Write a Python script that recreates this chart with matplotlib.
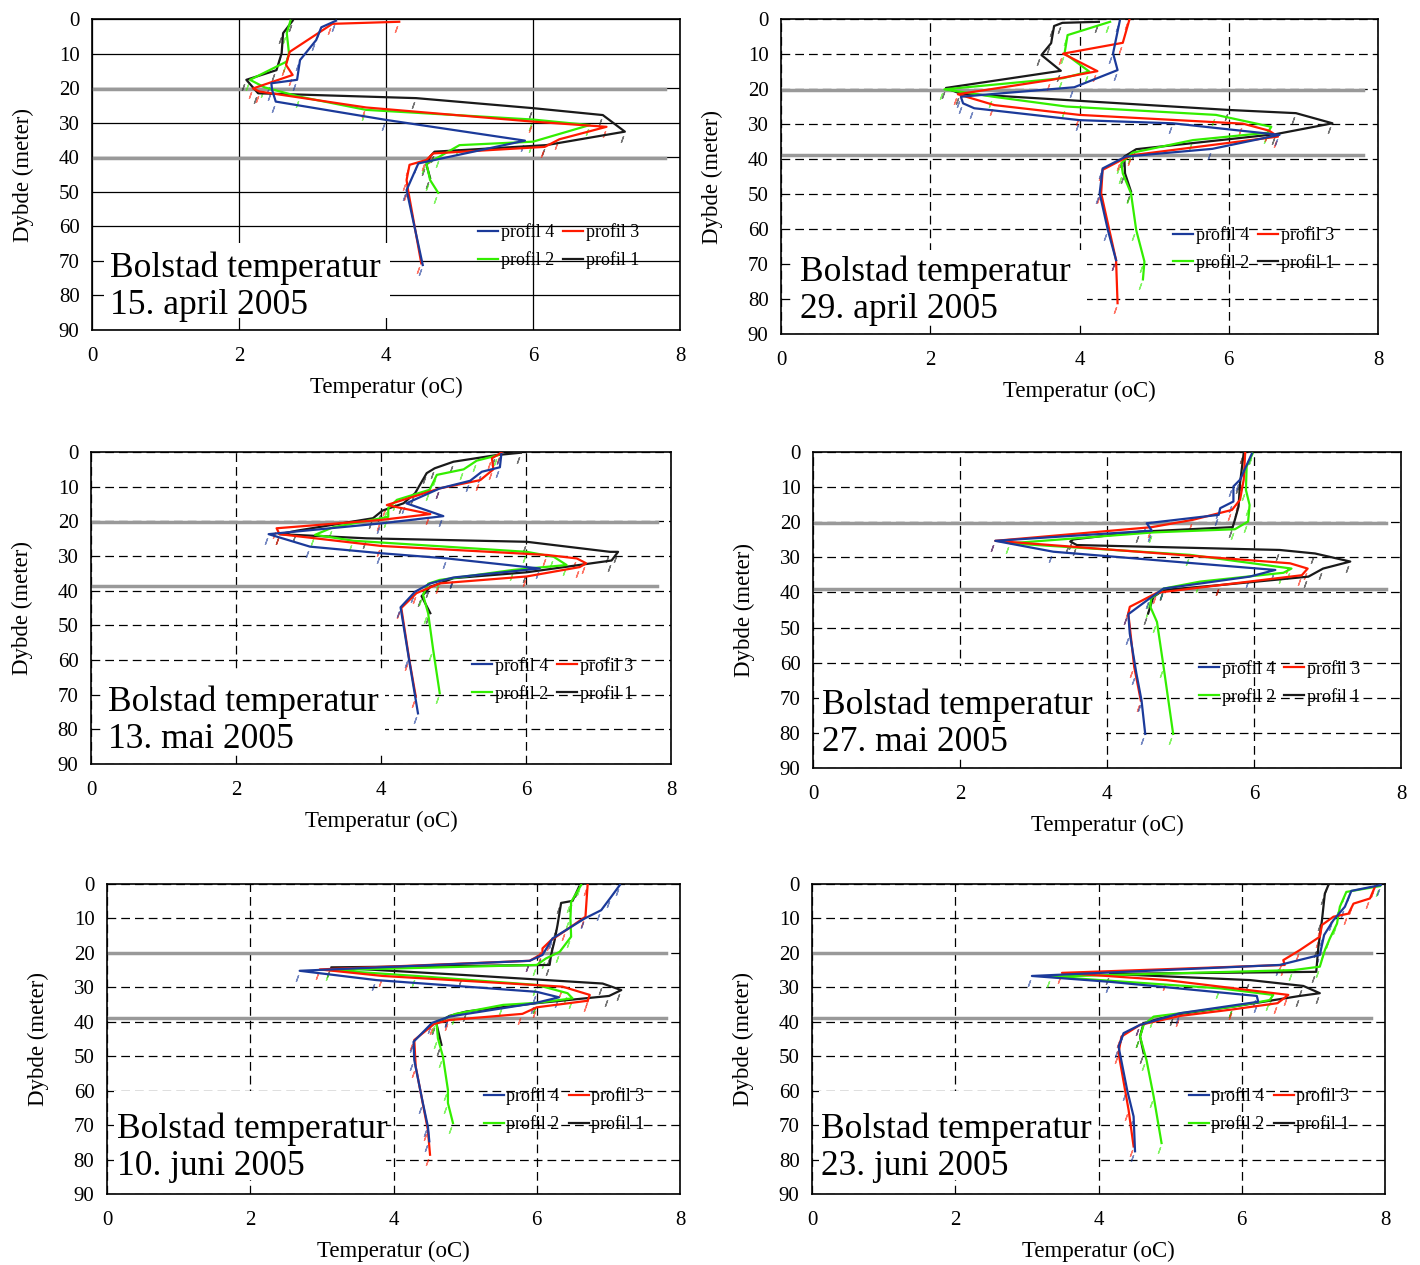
import matplotlib
matplotlib.use("Agg")
import matplotlib.pyplot as plt
from matplotlib.patches import Rectangle
from matplotlib.transforms import offset_copy

plt.rcParams['font.family'] = ['Liberation Serif', 'DejaVu Serif']

# ---- data: temperature (oC) and depth (m) per profile and date ----
# 15. april 2005
apr15_p4_t = [3.32, 3.12, 3.05, 2.83, 2.79, 2.44, 2.45, 2.50, 4.0, 5.89, 4.44, 4.28, 4.50]
apr15_p4_d = [0.5, 2.4, 6.1, 11.9, 17.6, 18.6, 20.5, 23.9, 29.2, 35.2, 41.8, 49.5, 71.2]
apr15_p3_t = [4.18, 3.27, 2.69, 2.64, 2.73, 2.19, 2.28, 3.73, 6.0, 7.0, 6.36, 6.16, 4.64, 4.55, 4.32, 4.28, 4.30, 4.48]
apr15_p3_d = [0.8, 1.4, 9.5, 13.3, 16.2, 20.1, 21.0, 25.6, 29.7, 31.2, 34.8, 37.0, 38.9, 40.8, 42.2, 46.6, 49.5, 70.7]
apr15_p2_t = [2.70, 2.65, 2.68, 2.65, 2.15, 2.35, 2.83, 3.73, 6.0, 6.77, 6.0, 5.0, 4.73, 4.55, 4.60, 4.71]
apr15_p2_d = [0.5, 4.1, 9.9, 12.3, 17.6, 19.8, 22.5, 26.3, 29.1, 30.7, 35.5, 36.5, 39.8, 41.8, 46.6, 50.3]
apr15_p1_t = [2.73, 2.60, 2.58, 2.51, 2.10, 2.26, 4.41, 6.0, 6.95, 7.25, 6.18, 4.66, 4.60, 4.55, 4.60]
apr15_p1_d = [0.5, 4.1, 9.9, 14.8, 17.6, 21.5, 22.9, 25.8, 27.8, 32.6, 36.5, 38.4, 39.8, 42.2, 46.0]

# 29. april 2005
apr29_p4_t = [4.54, 4.45, 4.51, 3.93, 2.41, 2.44, 2.59, 4.0, 5.25, 6.68, 5.78, 4.62, 4.31, 4.27, 4.38, 4.49]
apr29_p4_d = [0.5, 9.8, 14.6, 19.5, 22.2, 24.1, 25.5, 28.9, 29.8, 33.1, 37.1, 39.3, 42.7, 49.8, 60.3, 68.9]
apr29_p3_t = [4.67, 4.58, 3.78, 4.24, 3.62, 2.37, 2.86, 4.0, 6.19, 6.54, 6.66, 4.71, 4.56, 4.31, 4.29, 4.49, 4.51]
apr29_p3_d = [0.1, 6.8, 9.9, 14.9, 17.4, 21.5, 24.6, 27.4, 29.9, 31.9, 33.6, 38.9, 40.3, 43.1, 49.8, 68.9, 81.2]
apr29_p2_t = [4.41, 3.84, 3.80, 4.13, 3.78, 2.19, 2.84, 3.82, 5.83, 6.57, 6.52, 5.52, 4.71, 4.56, 4.58, 4.69, 4.76, 4.87, 4.85]
apr29_p2_d = [0.8, 4.6, 9.8, 15.0, 16.9, 20.1, 22.2, 25.0, 27.4, 30.8, 32.5, 34.6, 38.2, 41.2, 44.1, 49.8, 60.3, 69.3, 74.4]
apr29_p1_t = [4.26, 3.77, 3.66, 3.62, 3.49, 3.75, 2.21, 2.40, 6.01, 6.90, 7.39, 6.63, 4.76, 4.60, 4.61, 4.69]
apr29_p1_d = [0.8, 1.1, 2.0, 6.9, 10.3, 14.8, 19.7, 21.3, 26.0, 26.9, 29.8, 32.9, 37.2, 39.3, 44.1, 49.3]

# 13. mai 2005
mai13_p4_t = [5.66, 5.64, 5.39, 5.23, 4.81, 4.35, 4.86, 4.0, 2.45, 3.02, 4.0, 4.91, 6.19, 5.0, 4.68, 4.47, 4.27, 4.38, 4.51]
mai13_p4_d = [0.6, 4.4, 5.7, 8.3, 10.5, 14.8, 18.5, 20.6, 23.7, 27.3, 29.2, 30.7, 33.6, 36.2, 37.9, 40.3, 44.8, 59.0, 75.4]
mai13_p3_t = [5.66, 5.53, 5.55, 5.37, 4.81, 4.08, 4.68, 4.0, 2.56, 2.60, 4.0, 6.29, 6.70, 6.83, 6.74, 6.01, 4.81, 4.49, 4.28, 4.39, 4.48]
mai13_p3_d = [0.2, 1.8, 5.0, 8.1, 10.5, 15.3, 17.9, 19.6, 22.0, 23.7, 27.1, 29.7, 30.7, 32.1, 33.2, 35.9, 37.9, 40.7, 45.0, 59.9, 70.6]
mai13_p2_t = [5.62, 5.32, 5.14, 4.77, 4.67, 4.22, 4.10, 4.10, 3.34, 3.09, 3.62, 6.01, 6.38, 6.56, 5.83, 4.81, 4.65, 4.58, 4.65, 4.72, 4.81]
mai13_p2_d = [0.9, 2.5, 5.0, 6.6, 10.9, 13.8, 16.2, 18.7, 21.7, 23.9, 25.6, 28.8, 30.2, 32.6, 34.0, 36.9, 38.0, 41.2, 46.5, 57.1, 69.6]
mai13_p1_t = [5.93, 5.59, 5.0, 4.74, 4.63, 4.47, 4.31, 4.02, 3.89, 2.84, 2.60, 3.80, 6.01, 7.16, 7.27, 7.18, 6.01, 5.0, 4.68, 4.56, 4.68]
mai13_p1_d = [0.2, 0.9, 2.8, 4.7, 6.1, 11.9, 14.8, 16.9, 19.1, 22.7, 23.7, 24.9, 25.9, 28.8, 28.8, 31.3, 34.7, 36.4, 38.9, 41.6, 46.5]

# 27. mai 2005
mai27_p4_t = [5.97, 5.81, 5.72, 5.72, 5.54, 5.52, 4.54, 4.61, 2.48, 3.27, 6.29, 5.94, 4.77, 4.58, 4.29, 4.31, 4.40, 4.47, 4.52]
mai27_p4_d = [0.5, 7.9, 9.8, 14.1, 16.0, 17.9, 20.3, 22.4, 25.3, 28.4, 33.6, 35.5, 38.9, 41.7, 46.2, 51.7, 63.1, 70.8, 80.3]
mai27_p3_t = [5.88, 5.86, 5.81, 5.70, 5.17, 4.61, 2.48, 6.49, 6.73, 6.65, 5.54, 4.68, 4.31, 4.29, 4.37, 4.46]
mai27_p3_d = [0.3, 7.9, 13.6, 16.5, 19.3, 21.4, 25.3, 31.7, 33.2, 35.1, 37.9, 40.1, 44.1, 46.0, 61.2, 70.8]
mai27_p2_t = [5.98, 5.90, 5.89, 5.94, 5.92, 5.74, 4.63, 2.68, 5.13, 6.51, 6.40, 5.27, 4.77, 4.60, 4.59, 4.68, 4.77, 4.90]
mai27_p2_d = [0.5, 4.1, 10.8, 15.1, 19.8, 22.0, 22.9, 26.0, 29.3, 33.2, 34.4, 36.9, 38.9, 41.7, 44.1, 48.4, 61.2, 80.3]
mai27_p1_t = [5.86, 5.81, 5.79, 5.74, 5.71, 4.45, 3.54, 3.50, 3.59, 6.35, 6.83, 7.31, 6.94, 6.74, 5.54, 4.77, 4.63, 4.56]
mai27_p1_d = [0.3, 8.9, 15.5, 19.3, 21.4, 22.7, 24.9, 25.5, 26.5, 27.9, 28.9, 31.2, 33.2, 35.5, 37.9, 39.3, 41.3, 46.0]

# 10. juni 2005
jun10_p4_t = [7.16, 7.04, 6.90, 6.67, 6.22, 6.08, 5.90, 2.69, 3.76, 6.0, 6.31, 5.97, 4.78, 4.54, 4.28, 4.29, 4.41, 4.48, 4.50]
jun10_p4_d = [0.3, 3.7, 7.6, 10.0, 15.8, 20.6, 22.3, 25.2, 27.9, 31.3, 32.9, 34.6, 38.5, 40.3, 45.8, 51.1, 63.6, 70.4, 74.7]
jun10_p3_t = [6.71, 6.68, 6.41, 6.20, 6.08, 6.08, 5.90, 2.97, 3.85, 6.36, 6.74, 6.71, 6.0, 5.80, 4.78, 4.57, 4.29, 4.31, 4.48, 4.51]
jun10_p3_d = [0.3, 9.5, 13.4, 16.3, 18.7, 20.2, 22.3, 24.8, 26.7, 29.8, 32.2, 33.9, 35.8, 37.7, 39.5, 40.6, 45.3, 53.0, 71.4, 78.6]
jun10_p2_t = [6.62, 6.48, 6.47, 6.48, 6.32, 6.13, 6.0, 3.11, 4.32, 6.0, 6.43, 6.50, 6.0, 5.53, 4.87, 4.60, 4.62, 4.69, 4.76, 4.76, 4.83]
jun10_p2_d = [0.3, 5.2, 10.0, 15.3, 19.7, 21.6, 23.5, 25.0, 26.7, 29.3, 31.7, 33.2, 34.5, 35.1, 37.7, 40.0, 44.8, 50.1, 59.8, 63.6, 69.4]
jun10_p1_t = [6.59, 6.50, 6.34, 6.29, 6.25, 6.20, 6.18, 3.13, 4.97, 6.92, 7.18, 7.01, 6.0, 5.02, 4.78, 4.60, 4.67]
jun10_p1_d = [0.8, 4.9, 5.5, 11.9, 16.3, 20.6, 23.5, 24.2, 26.4, 28.9, 30.8, 32.5, 34.6, 37.0, 38.3, 40.6, 46.7]

# 23. juni 2005
jun23_p4_t = [7.94, 7.53, 7.44, 7.28, 7.15, 7.09, 6.53, 3.07, 4.16, 6.21, 6.23, 5.14, 4.58, 4.35, 4.28, 4.40, 4.49, 4.51]
jun23_p4_d = [0.3, 2.0, 6.6, 10.5, 14.8, 20.6, 23.5, 26.7, 28.4, 32.5, 34.2, 37.5, 40.9, 43.3, 47.2, 59.8, 67.5, 77.6]
jun23_p3_t = [7.86, 7.79, 7.56, 7.49, 7.28, 7.12, 7.09, 6.81, 6.58, 6.60, 3.49, 4.95, 6.65, 6.50, 5.88, 5.14, 4.58, 4.32, 4.28, 4.42, 4.49]
jun23_p3_d = [0.8, 4.2, 5.7, 8.6, 9.5, 11.9, 15.3, 19.2, 22.1, 23.5, 25.8, 27.9, 32.2, 34.6, 36.4, 38.3, 40.9, 44.3, 49.1, 65.6, 76.2]
jun23_p2_t = [7.93, 7.46, 7.37, 7.33, 7.23, 7.16, 7.09, 6.72, 3.33, 5.70, 6.44, 6.39, 5.88, 4.77, 4.63, 4.58, 4.67, 4.77, 4.88]
jun23_p2_d = [0.6, 2.3, 6.6, 11.5, 15.8, 19.2, 24.0, 25.0, 26.9, 30.3, 32.2, 33.7, 35.6, 38.5, 40.9, 44.3, 51.1, 61.7, 75.2]
jun23_p1_t = [7.21, 7.16, 7.12, 7.07, 7.04, 4.16, 6.12, 6.86, 7.09, 6.81, 5.88, 5.05, 4.63, 4.58, 4.63]
jun23_p1_d = [0.3, 2.8, 10.5, 18.2, 25.5, 26.1, 27.9, 29.6, 31.7, 32.5, 35.6, 38.0, 40.4, 44.3, 49.1]

dates = ["15. april 2005", "29. april 2005", "13. mai 2005",
         "27. mai 2005", "10. juni 2005", "23. juni 2005"]
# depth of the two grey reference lines in each chart
ref_depths = [(20.3, 40.3), (20.3, 38.9), (20.1, 38.7),
              (20.3, 38.9), (20.1, 38.8), (20.1, 38.8)]

colors = {"profil 4": "#1b3a9a", "profil 3": "#ff1a00",
          "profil 2": "#33ee00", "profil 1": "#1a1a1a"}

series = [
    {"profil 4": (apr15_p4_t, apr15_p4_d), "profil 3": (apr15_p3_t, apr15_p3_d),
     "profil 2": (apr15_p2_t, apr15_p2_d), "profil 1": (apr15_p1_t, apr15_p1_d)},
    {"profil 4": (apr29_p4_t, apr29_p4_d), "profil 3": (apr29_p3_t, apr29_p3_d),
     "profil 2": (apr29_p2_t, apr29_p2_d), "profil 1": (apr29_p1_t, apr29_p1_d)},
    {"profil 4": (mai13_p4_t, mai13_p4_d), "profil 3": (mai13_p3_t, mai13_p3_d),
     "profil 2": (mai13_p2_t, mai13_p2_d), "profil 1": (mai13_p1_t, mai13_p1_d)},
    {"profil 4": (mai27_p4_t, mai27_p4_d), "profil 3": (mai27_p3_t, mai27_p3_d),
     "profil 2": (mai27_p2_t, mai27_p2_d), "profil 1": (mai27_p1_t, mai27_p1_d)},
    {"profil 4": (jun10_p4_t, jun10_p4_d), "profil 3": (jun10_p3_t, jun10_p3_d),
     "profil 2": (jun10_p2_t, jun10_p2_d), "profil 1": (jun10_p1_t, jun10_p1_d)},
    {"profil 4": (jun23_p4_t, jun23_p4_d), "profil 3": (jun23_p3_t, jun23_p3_d),
     "profil 2": (jun23_p2_t, jun23_p2_d), "profil 1": (jun23_p1_t, jun23_p1_d)},
]

# ---- layout (pixel positions measured on the original) ----
W, H = 1420, 1265
axes_px = [(92, 19, 588, 311), (781, 19, 597, 315), (91, 452, 580, 312),
           (813, 452, 588, 316), (107, 884, 573, 310), (812, 884, 573, 310)]
# white label box: (x0, x1, d0, d1) in data units, text anchor (x, d)
label_box = [(0.17, 4.06, 64.8, 86.5), (0.17, 4.1, 66, 87.5), (0.15, 4.06, 63.5, 86.5),
             (0.08, 3.98, 61, 87.5), (0.1, 3.9, 60, 86), (0.1, 3.98, 60, 86)]
label_pos = [(0.24, 77.5), (0.25, 77.6), (0.23, 77.6), (0.12, 77.5), (0.14, 76.6), (0.12, 76.6)]

fig = plt.figure(figsize=(W / 100, H / 100), dpi=100)

for i in range(6):
    l, t, w, h = axes_px[i]
    ax = fig.add_axes([l / W, 1 - (t + h) / H, w / W, h / H])
    ax.set_xlim(0, 8)
    ax.set_ylim(90, 0)
    ax.set_xticks(range(0, 9, 2))
    ax.set_yticks(range(0, 91, 10))
    ax.tick_params(length=0, labelsize=15)
    ax.tick_params(axis="x", pad=12)
    ax.tick_params(axis="y", pad=9)

    gstyle = "-" if i == 0 else (0, (7, 4))
    ax.grid(True, color="black", linestyle=gstyle, linewidth=0.9, zorder=0)
    ax.set_axisbelow(True)
    for s in ax.spines.values():
        s.set_linewidth(1.2)

    for dref in ref_depths[i]:
        ax.plot([0, 7.8], [dref, dref], color="#999999", linewidth=2.5, zorder=1)

    x0, x1, d0, d1 = label_box[i]
    ax.add_patch(Rectangle((x0, d0), x1 - x0, d1 - d0, facecolor="white",
                           edgecolor="none", zorder=1.5))
    tx, td = label_pos[i]
    ax.text(tx, td, "Bolstad temperatur\n" + dates[i], fontsize=25.5,
            ha="left", va="center", linespacing=1.15, zorder=2)

    marks = offset_copy(ax.transData, fig=fig, x=-3, y=-7, units="dots")
    handles = {}
    for name in ["profil 1", "profil 2", "profil 3", "profil 4"]:
        temps, depths = series[i][name]
        ln, = ax.plot(temps, depths, color=colors[name], linewidth=1.6,
                      label=name, zorder=3)
        ax.plot(temps, depths, linestyle="none", marker=(2, 2, -20),
                markersize=5, markeredgewidth=0.9, color=colors[name],
                alpha=0.6, transform=marks, zorder=2.5)
        handles[name] = ln

    order = ["profil 4", "profil 2", "profil 3", "profil 1"]
    ax.legend([handles[n] for n in order], order, ncol=2, frameon=False,
              loc="center left", bbox_to_anchor=(0.645, 0.27), fontsize=13,
              handlelength=1.1, handletextpad=0.15, columnspacing=0.5,
              labelspacing=0.55, borderaxespad=0)

    ax.set_xlabel("Temperatur (oC)", fontsize=16.5, labelpad=8)
    ax.set_ylabel("Dybde (meter)", fontsize=16.5, labelpad=18)

fig.savefig("out.png", dpi=100)
